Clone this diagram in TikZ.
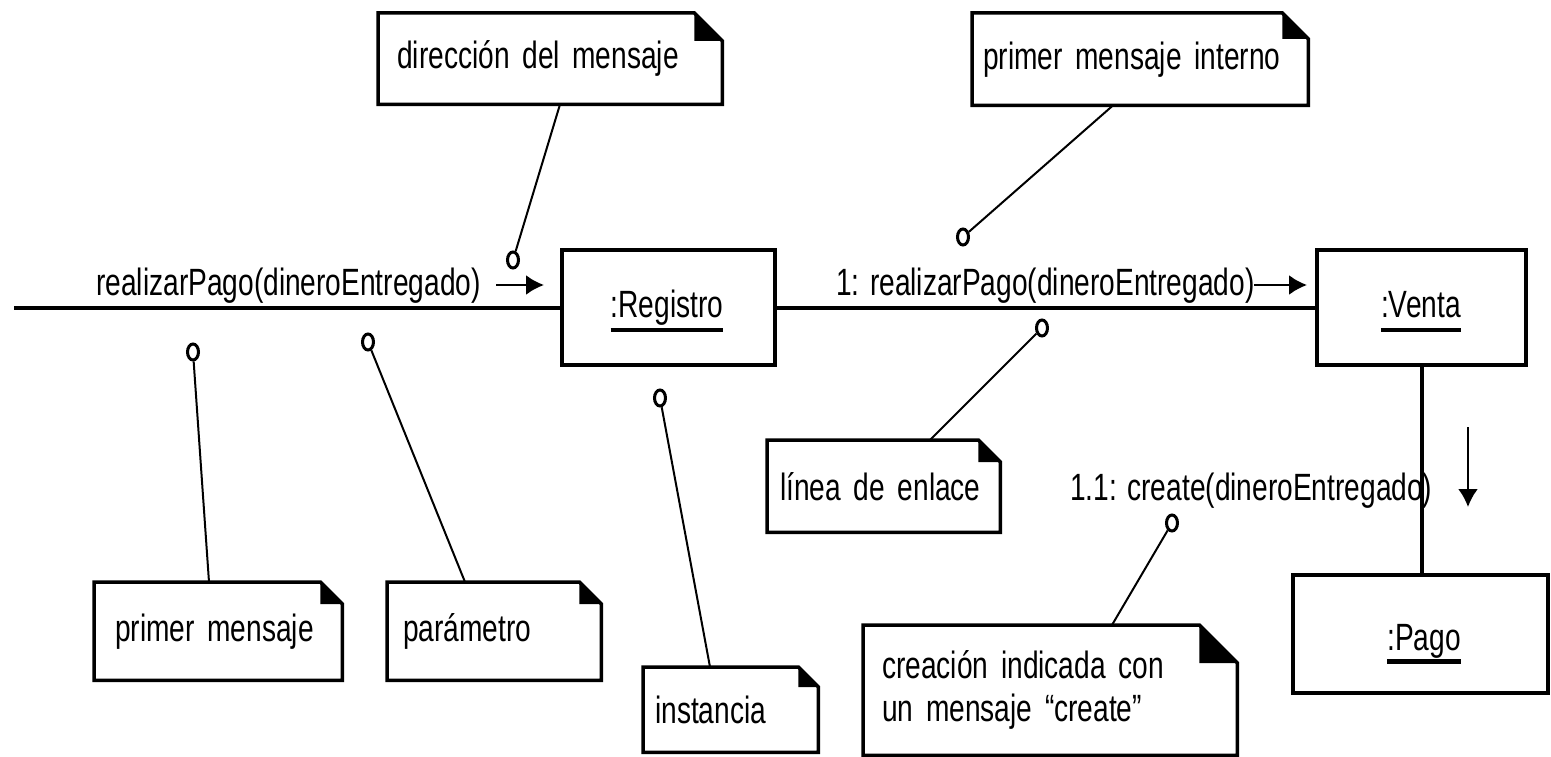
\documentclass[tikz,border=0pt]{standalone}
\usepackage{fontspec}
\setmainfont{Liberation Sans}[FakeStretch=0.74]
\usetikzlibrary{arrows.meta,calc,shapes.geometric}

% outline of a UML note with its folded top-right corner
\newcommand\umlnotefold[2]{%
  \draw[noteline] (#1.north west) -- ($(#1.north east)+(-#2,0)$) -- ($(#1.north east)+(0,#2)$)
        -- (#1.south east) -- (#1.south west) -- cycle;
  \fill ($(#1.north east)+(-#2,0)$) -- ($(#1.north east)+(-#2,#2)$) -- ($(#1.north east)+(0,#2)$) -- cycle;}

\begin{document}
\begin{tikzpicture}[x=1pt,y=-1pt,
  every node/.style={font=\fontsize{38}{43}\selectfont},
  objbox/.style={draw, line width=4pt, rectangle, inner sep=0pt},
  objlabel/.style={inner sep=0pt, anchor=base},
  msg/.style={inner sep=0pt, anchor=base west},
  link/.style={line width=4pt},
  uline/.style={line width=3.5pt},
  msgarrow/.style={line width=2.5pt, -{Latex[length=18pt,width=20pt]}},
  note/.style={anchor=north west, align=left, inner ysep=0pt},
  noteline/.style={line width=3.5pt, line join=miter},
  anchorpt/.style={draw, ellipse, line width=3pt, minimum width=11pt, minimum height=16pt, inner sep=0pt, fill=white},
  noteconn/.style={line width=2pt}
]
\useasboundingbox (0,0) rectangle (1551,757);

% ---------- objects ----------
\node[objbox, minimum width=213pt, minimum height=115pt] (reg) at (668.5,307.5) {};
\node[objlabel] (regt) at (667,317) {:Registro};
\draw[uline] ([yshift=-13pt]regt.base west) -- ([yshift=-13pt]regt.base east);

\node[objbox, minimum width=209pt, minimum height=115pt] (venta) at (1421.5,307.5) {};
\node[objlabel] (ventat) at (1421,317) {:Venta};
\draw[uline] ([yshift=-13pt]ventat.base west) -- ([yshift=-13pt]ventat.base east);

\node[objbox, minimum width=255pt, minimum height=118pt] (pago) at (1420.5,634) {};
\node[objlabel] (pagot) at (1424,650) {:Pago};
\draw[line width=5pt] ([yshift=-11pt]pagot.base west) -- ([yshift=-11pt]pagot.base east);

% ---------- links ----------
\coordinate (lstart) at (14,307.5);
\draw[link] (lstart) -- (reg.west);
\draw[link] (reg.east) -- (venta.west);
\draw[link] (venta.south) -- (venta.south |- pago.north);

% ---------- messages ----------
\node[msg] (m0) at (96,295) {realizarPago(dineroEntregado)};
\coordinate (a0s) at (496,285);
\coordinate (a0e) at (544,285);
\draw[msgarrow] (a0s) -- (a0e);

\node[msg] (m1) at (836,295) {1: realizarPago(dineroEntregado)};
\coordinate (a1s) at (1254,285);
\coordinate (a1e) at (1307,285);
\draw[msgarrow] (a1s) -- (a1e);

\node[msg] (m2) at (1070,500) {1.1: create(dineroEntregado)};
\coordinate (a2s) at (1468,427);
\coordinate (a2e) at (1468,507);
\draw[msgarrow] (a2s) -- (a2e);

% ---------- notes ----------
\node[note, text width=306pt, inner xsep=19pt, minimum height=91pt] (ndir) at (378,13) {dirección del mensaje};
\umlnotefold{ndir}{28}
\node[note, text width=314pt, inner xsep=11pt, minimum height=92pt] (nint) at (972,13) {primer mensaje interno};
\umlnotefold{nint}{26}
\node[note, text width=207pt, inner xsep=13pt, minimum height=92pt] (nenl) at (767,440) {línea de enlace};
\umlnotefold{nenl}{22}
\node[note, text width=206pt, inner xsep=21pt, minimum height=98pt] (nprim) at (94,582) {primer mensaje};
\umlnotefold{nprim}{22}
\node[note, text width=182pt, inner xsep=16pt, minimum height=98pt] (npar) at (387,582) {parámetro};
\umlnotefold{npar}{22}
\node[note, text width=151pt, inner xsep=12pt, minimum height=85pt] (ninst) at (643,667) {instancia};
\umlnotefold{ninst}{20}
\node[note, text width=336pt, inner xsep=19pt, minimum height=130pt] (ncre) at (863,625) {creación indicada con\\un mensaje “create”};
\umlnotefold{ncre}{38}

% ---------- note anchors ----------
\node[anchorpt] (cdir) at (513,260) {};
\node[anchorpt] (cint) at (963,237) {};
\node[anchorpt] (cenl) at (1042,328) {};
\node[anchorpt] (cprim) at (193,352) {};
\node[anchorpt] (cpar) at (368,342) {};
\node[anchorpt] (cinst) at (660,398) {};
\node[anchorpt] (ccre) at (1172,523) {};

\draw[noteconn] ($(ndir.south west)+(182,0)$) -- (cdir);
\draw[noteconn] ($(nint.south west)+(141,0)$) -- (cint);
\draw[noteconn] ($(nenl.north west)+(163,0)$) -- (cenl);
\draw[noteconn] ($(nprim.north west)+(115,0)$) -- (cprim);
\draw[noteconn] ($(npar.north west)+(78,0)$) -- (cpar);
\draw[noteconn] ($(ninst.north west)+(67,0)$) -- (cinst);
\draw[noteconn] ($(ncre.north west)+(249,0)$) -- (ccre);
\end{tikzpicture}
\end{document}
